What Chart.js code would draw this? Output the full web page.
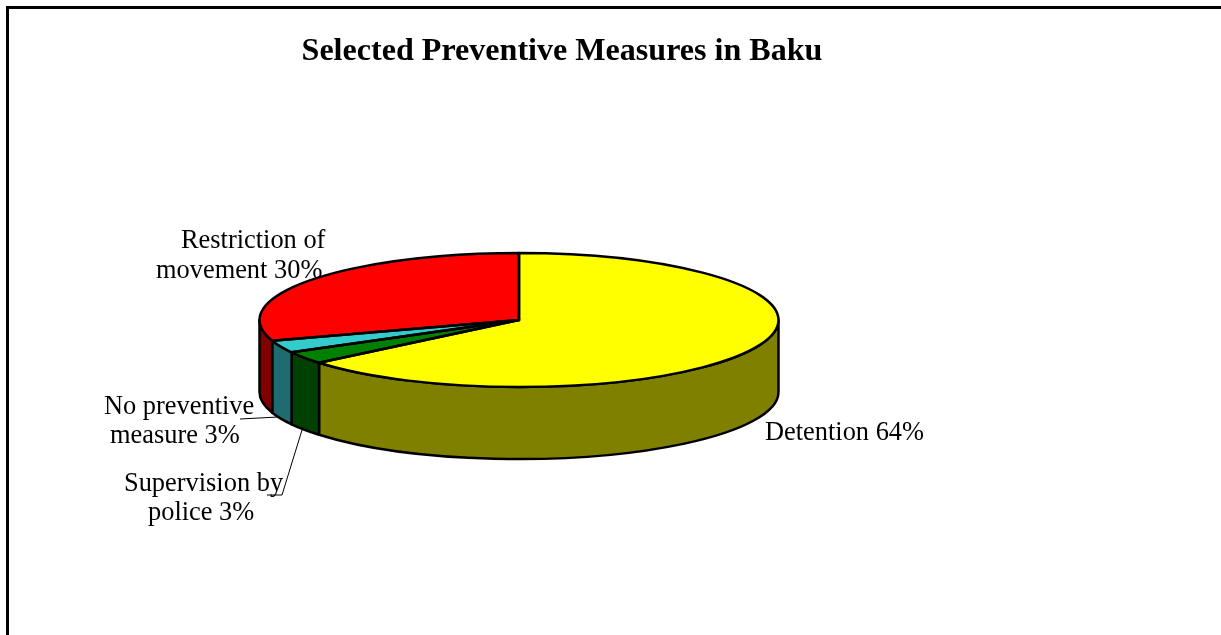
<!DOCTYPE html>
<html>
<head>
<meta charset="utf-8">
<style>html,body{margin:0;padding:0;background:#fff}canvas{display:block}</style>
<script src="https://cdn.jsdelivr.net/npm/chart.js@4"></script>
</head>
<body>
<canvas id="c" width="1221" height="635"></canvas>
<script>
const categories = ["Detention", "Supervision by police", "No preventive measure", "Restriction of movement"];
const values = [64, 3, 3, 30];
const topColors = ["#FFFF00", "#008000", "#33CCCC", "#FF0000"];
const sideColors = ["#808000", "#004000", "#1F6B70", "#800000"];
const titleText = "Selected Preventive Measures in Baku";

const SERIF = '"Liberation Serif", "Times New Roman", serif';
const view = {cx: 519, cy: 320, rx: 259.5, ry: 67, depth: 72};
// each label line: text, left x, baseline y
const labelLayout = [
  [["Detention " + values[0] + "%", 765, 440]],
  [["Supervision by", 124, 491], ["police " + values[1] + "%", 148, 520]],
  [["No preventive", 104, 414], ["measure " + values[2] + "%", 110, 443]],
  [["Restriction of", 181, 248], ["movement " + values[3] + "%", 156, 278]]
];
const leaders = [
  [[240, 419], [278, 417]],
  [[267, 495], [282, 495], [302, 430]]
];

function project(arc, ctx) {
  const r = arc.outerRadius;
  ctx.translate(view.cx, view.cy);
  ctx.scale(view.rx / r, view.ry / r);
  ctx.translate(-arc.x, -arc.y);
}

const pie3d = {
  id: "pie3d",
  beforeDatasetsDraw(chart) {
    const ctx = chart.ctx;
    const arcs = chart.getDatasetMeta(0).data;
    // side wall of the visible front half, from the library's slice angles
    arcs.forEach((arc, i) => {
      const lo = Math.max(arc.startAngle, 0), hi = Math.min(arc.endAngle, Math.PI);
      if (hi <= lo) return;
      ctx.beginPath();
      ctx.ellipse(view.cx, view.cy, view.rx, view.ry, 0, lo, hi);
      ctx.ellipse(view.cx, view.cy + view.depth, view.rx, view.ry, 0, hi, lo, true);
      ctx.closePath();
      ctx.fillStyle = sideColors[i];
      ctx.fill();
      ctx.lineWidth = 2.5;
      ctx.strokeStyle = "#000";
      ctx.lineJoin = "round";
      ctx.stroke();
    });
    ctx.save();
    project(arcs[0], ctx);
  },
  afterDatasetsDraw(chart) {
    const ctx = chart.ctx;
    ctx.restore();
    const arcs = chart.getDatasetMeta(0).data;
    arcs.forEach(arc => {
      ctx.beginPath();
      ctx.moveTo(view.cx, view.cy);
      ctx.ellipse(view.cx, view.cy, view.rx, view.ry, 0, arc.startAngle, arc.endAngle);
      ctx.closePath();
      ctx.lineWidth = 2.5;
      ctx.strokeStyle = "#000";
      ctx.lineJoin = "round";
      ctx.stroke();
    });
    // frame: top and left only
    ctx.fillStyle = "#000";
    ctx.fillRect(6, 6, 1215, 3);
    ctx.fillRect(6, 6, 3, 629);
    // leader lines
    ctx.lineWidth = 1;
    leaders.forEach(l => {
      ctx.beginPath();
      l.forEach((p, i) => i ? ctx.lineTo(p[0], p[1]) : ctx.moveTo(p[0], p[1]));
      ctx.stroke();
    });
    // labels
    ctx.font = "26.4px " + SERIF;
    ctx.textAlign = "left";
    ctx.textBaseline = "alphabetic";
    labelLayout.forEach(lines => lines.forEach(l => ctx.fillText(l[0], l[1], l[2])));
  }
};

new Chart(document.getElementById("c"), {
  type: "pie",
  data: {
    labels: categories,
    datasets: [{data: values, backgroundColor: topColors, borderWidth: 0, hoverOffset: 0}]
  },
  options: {
    responsive: false,
    animation: false,
    layout: {padding: {right: 97, top: 0, bottom: 0, left: 0}},
    plugins: {
      legend: {display: false},
      tooltip: {enabled: false},
      title: {
        display: true,
        text: titleText,
        color: "#000",
        font: {family: SERIF, size: 32.1, weight: "bold"},
        padding: {top: 32, bottom: 10}
      }
    }
  },
  plugins: [pie3d]
});
</script>
</body>
</html>
